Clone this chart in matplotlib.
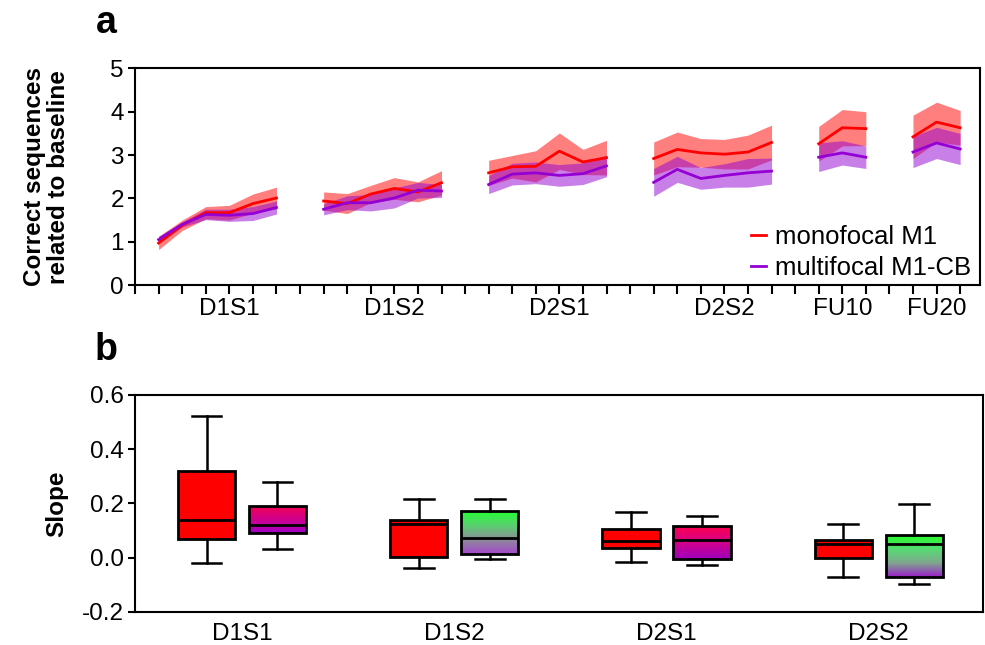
import numpy as np
import matplotlib
matplotlib.use("Agg")
import matplotlib.pyplot as plt
from matplotlib.colors import LinearSegmentedColormap
from matplotlib.ticker import FormatStrFormatter

plt.rcParams['font.family'] = ['Liberation Sans', 'DejaVu Sans']
plt.rcParams['axes.unicode_minus'] = False

#######################################################
# Panel a data: correct sequences related to baseline
#######################################################
block_x = [
    [1, 2, 3, 4, 5, 6],
    [8, 9, 10, 11, 12, 13],
    [15, 16, 17, 18, 19, 20],
    [22, 23, 24, 25, 26, 27],
    [29, 30, 31],
    [33, 34, 35],
]
block_labels = ["D1S1", "D1S2", "D2S1", "D2S2", "FU10", "FU20"]

mono_mean = [
    [0.97, 1.38, 1.67, 1.67, 1.88, 2.01],
    [1.94, 1.88, 2.10, 2.23, 2.15, 2.36],
    [2.59, 2.73, 2.74, 3.09, 2.84, 2.94],
    [2.92, 3.13, 3.05, 3.02, 3.07, 3.29],
    [3.26, 3.63, 3.61],
    [3.42, 3.76, 3.63],
]
mono_sem = [
    [0.15, 0.12, 0.14, 0.17, 0.22, 0.25],
    [0.21, 0.23, 0.20, 0.25, 0.23, 0.28],
    [0.29, 0.26, 0.36, 0.42, 0.29, 0.40],
    [0.38, 0.40, 0.33, 0.34, 0.39, 0.40],
    [0.40, 0.42, 0.39],
    [0.50, 0.46, 0.40],
]
multi_mean = [
    [1.05, 1.40, 1.63, 1.61, 1.65, 1.79],
    [1.75, 1.90, 1.90, 2.01, 2.19, 2.17],
    [2.32, 2.56, 2.59, 2.53, 2.57, 2.75],
    [2.37, 2.67, 2.46, 2.53, 2.59, 2.63],
    [2.95, 3.05, 2.95],
    [3.07, 3.28, 3.14],
]
multi_sem = [
    [0.08, 0.06, 0.12, 0.14, 0.16, 0.15],
    [0.13, 0.16, 0.19, 0.23, 0.18, 0.15],
    [0.21, 0.25, 0.25, 0.25, 0.25, 0.25],
    [0.32, 0.30, 0.25, 0.27, 0.33, 0.30],
    [0.33, 0.28, 0.26],
    [0.36, 0.36, 0.36],
]

#######################################################
# Panel b data: slopes per session
#######################################################
sessions = ["D1S1", "D1S2", "D2S1", "D2S2"]
mono_whislo = [-0.021, -0.037, -0.017, -0.072]
mono_q1 = [0.068, 0.002, 0.036, -0.002]
mono_med = [0.137, 0.122, 0.060, 0.050]
mono_q3 = [0.318, 0.138, 0.104, 0.065]
mono_whishi = [0.521, 0.217, 0.168, 0.124]

multi_whislo = [0.031, -0.006, -0.027, -0.099]
multi_q1 = [0.089, 0.014, -0.005, -0.072]
multi_med = [0.119, 0.073, 0.065, 0.051]
multi_q3 = [0.190, 0.171, 0.115, 0.085]
multi_whishi = [0.277, 0.217, 0.153, 0.199]

# gradient fills of the multifocal boxes (bottom -> top)
multi_gradients = [
    ["#a000c8", "#d0008c", "#f5004e"],
    ["#a448cc", "#8e8a9a", "#5ad070", "#22ff33"],
    ["#a000c0", "#d2008a", "#ff0050"],
    ["#9b1fc8", "#7fa88f", "#55dd70", "#22ff22"],
]

RED = "#ff0000"
PURPLE = "#9400d3"
FS = 17.5

fig = plt.figure(figsize=(9.85, 6.45), dpi=100)
ax1 = fig.add_axes([0.1371, 0.558, 0.858, 0.336])
ax2 = fig.add_axes([0.1371, 0.0516, 0.8606, 0.336])

#######################################################
# Panel a
#######################################################
for i, bx in enumerate(block_x):
    mm = np.array(mono_mean[i]); ms = np.array(mono_sem[i])
    pm = np.array(multi_mean[i]); ps = np.array(multi_sem[i])
    ax1.fill_between(bx, mm - ms, mm + ms, color=RED, alpha=0.5, lw=0)
    ax1.fill_between(bx, pm - ps, pm + ps, color=PURPLE, alpha=0.5, lw=0)
    l1, = ax1.plot(bx, mm, color=RED, lw=2)
    l2, = ax1.plot(bx, pm, color=PURPLE, lw=2)

ax1.set_xlim(0, 35.85)
ax1.set_ylim(0, 5)
ax1.set_xticks(np.arange(0, 36))
label_pos = [4, 11, 18, 25, 30, 34]
tick_text = [""] * 36
for p, t in zip(label_pos, block_labels):
    tick_text[p] = t
ax1.set_xticklabels(tick_text)
ax1.set_yticks(range(6))
ax1.tick_params(axis='x', direction='out', length=6.5, width=1.5, labelsize=FS, pad=3)
ax1.tick_params(axis='y', direction='out', length=5, width=1.5, labelsize=FS, pad=3)
for s in ax1.spines.values():
    s.set_linewidth(1.5)
ax1.set_ylabel("Correct sequences\nrelated to baseline", fontsize=FS, fontweight='bold',
               linespacing=1.05)
ax1.yaxis.set_label_coords(-0.077, 0.5)
ax1.legend([l1, l2], ["monofocal M1", "multifocal M1-CB"], loc='lower right',
           bbox_to_anchor=(1.005, -0.035), frameon=False, fontsize=18.5,
           handlelength=0.6, handletextpad=0.35, labelspacing=0.25, borderaxespad=0.1)
fig.text(0.108, 0.964, "a", fontsize=27, fontweight='bold', ha='center', va='center')

#######################################################
# Panel b
#######################################################
groups = np.arange(1, len(sessions) + 1)
off = 0.167
w = 0.27


def stats(lo, q1, med, q3, hi):
    return [dict(whislo=a, q1=b, med=c, q3=d, whishi=e, fliers=[])
            for a, b, c, d, e in zip(lo, q1, med, q3, hi)]


common = dict(widths=w, patch_artist=True, showfliers=False,
              boxprops=dict(linewidth=2, edgecolor='black'),
              whiskerprops=dict(linewidth=1.8, color='black'),
              capprops=dict(linewidth=1.8, color='black'),
              medianprops=dict(linewidth=2, color='black'),
              capwidths=w * 0.52)

bm = ax2.bxp(stats(mono_whislo, mono_q1, mono_med, mono_q3, mono_whishi),
             positions=groups - off, **common)
for b in bm['boxes']:
    b.set_facecolor(RED)
    b.set_zorder(2)

bp = ax2.bxp(stats(multi_whislo, multi_q1, multi_med, multi_q3, multi_whishi),
             positions=groups + off, **common)
grad = np.linspace(0, 1, 256).reshape(-1, 1)
for i, b in enumerate(bp['boxes']):
    b.set_facecolor('none')
    b.set_zorder(2)
    cmap = LinearSegmentedColormap.from_list("g%d" % i, multi_gradients[i])
    x0 = groups[i] + off - w / 2
    im = ax2.imshow(grad, extent=(x0, x0 + w, multi_q1[i], multi_q3[i]), origin='lower',
                    cmap=cmap, aspect='auto', zorder=1.5, interpolation='bilinear')
    im.set_clip_path(b)
for m in bm['medians'] + bp['medians']:
    m.set_zorder(3)

ax2.set_xlim(0.496, 4.49)
ax2.set_ylim(-0.2, 0.6)
ax2.set_xticks(groups)
ax2.set_xticklabels(sessions)
ax2.set_yticks([-0.2, 0.0, 0.2, 0.4, 0.6])
ax2.yaxis.set_major_formatter(FormatStrFormatter('%.1f'))
ax2.tick_params(axis='x', length=0, labelsize=FS, pad=8)
ax2.tick_params(axis='y', direction='out', length=5, width=1.5, labelsize=FS, pad=3)
for s in ax2.spines.values():
    s.set_linewidth(1.5)
ax2.set_ylabel("Slope", fontsize=FS, fontweight='bold')
ax2.yaxis.set_label_coords(-0.079, 0.5)
fig.text(0.108, 0.458, "b", fontsize=27, fontweight='bold', ha='center', va='center')

fig.savefig("out.png", dpi=100)
